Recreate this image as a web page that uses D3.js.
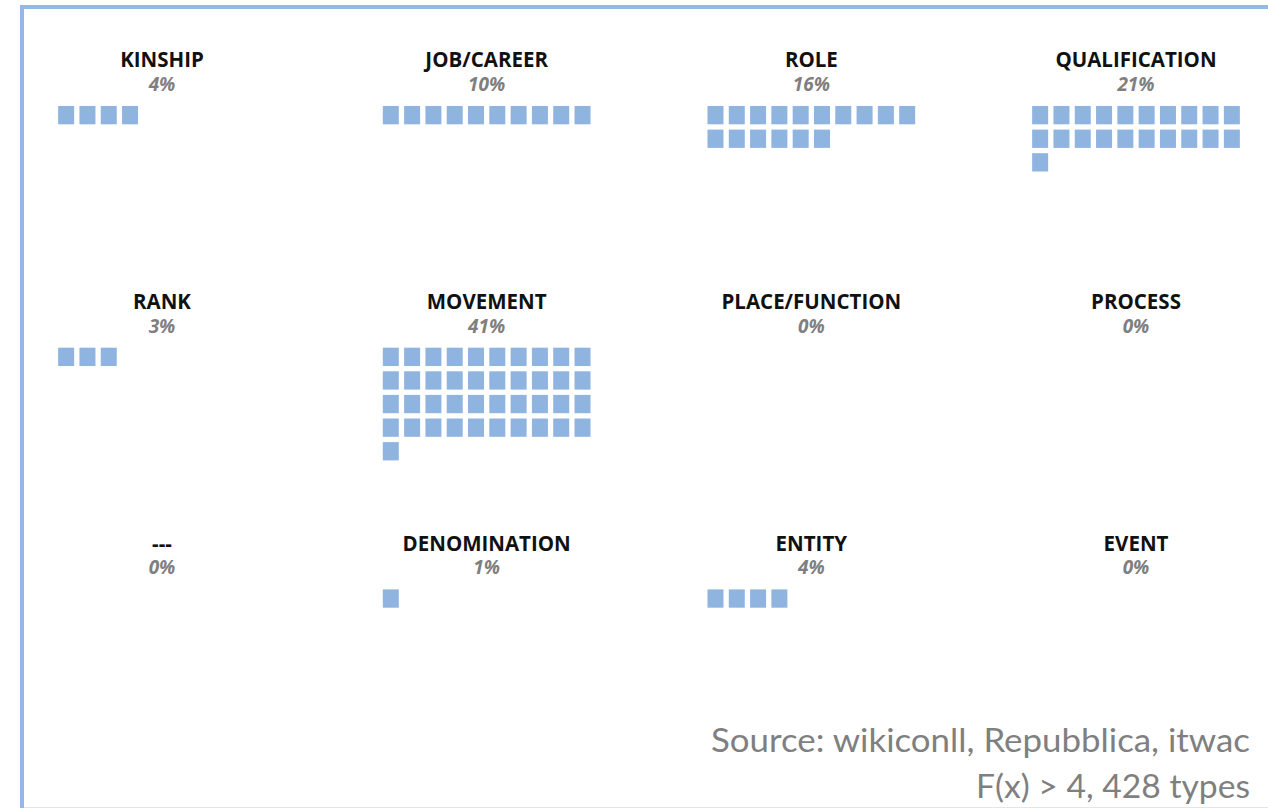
<!DOCTYPE html>
<html>
<head>
<meta charset="utf-8">
<script src="https://cdn.jsdelivr.net/npm/d3@7"></script>
<style>
  html, body { margin: 0; padding: 0; background: #fff; }
  svg { display: block; }
</style>
</head>
<body>
<div id="chart"></div>
<script>
// categories and their share (%), one square per percent
const categories = [
  "KINSHIP", "JOB/CAREER", "ROLE", "QUALIFICATION",
  "RANK", "MOVEMENT", "PLACE/FUNCTION", "PROCESS",
  "---", "DENOMINATION", "ENTITY", "EVENT"
];
const shares = [4, 10, 16, 21, 3, 41, 0, 0, 0, 1, 4, 0];
const sourceLines = ["Source: wikiconll, Repubblica, itwac", "F(x) > 4, 428 types"];

const width = 1268, height = 808;
const perRow = 10;

const svg = d3.select("#chart").append("svg")
  .attr("width", width)
  .attr("height", height);

// frame (runs off the right and bottom edge)
svg.append("rect")
  .attr("x", 22).attr("y", 7)
  .attr("width", width + 20).attr("height", height + 20)
  .attr("fill", "none")
  .attr("stroke", "#93b8e3")
  .attr("stroke-width", 4);

svg.append("line")
  .attr("x1", 24).attr("x2", width)
  .attr("y1", 807.5).attr("y2", 807.5)
  .attr("stroke", "#e6e6e6");

const col = d3.scalePoint().domain(d3.range(4)).range([162, 1136]);
const row = d3.scalePoint().domain(d3.range(3)).range([67.3, 550.7]);

// square grid inside a panel
const sqX = d3.scaleLinear().domain([0, 1]).range([0, 21.3]);
const sqY = d3.scaleLinear().domain([0, 1]).range([0, 23.6]);
const sqW = 16, sqH = 18.3;
const gridW = sqX(perRow - 1) + sqW;

const panels = categories.map((name, i) => ({ name, value: shares[i], c: i % 4, r: Math.floor(i / 4) }));

const panel = svg.selectAll("g.panel")
  .data(panels)
  .join("g")
  .attr("class", "panel")
  .attr("transform", d => `translate(${col(d.c)},${row(d.r)})`);

panel.append("text")
  .attr("text-anchor", "middle")
  .attr("font-family", "Open Sans")
  .attr("font-weight", 700)
  .attr("font-size", 20.5)
  .attr("fill", "#111")
  .text(d => d.name);

panel.append("text")
  .attr("text-anchor", "middle")
  .attr("y", 23.6)
  .attr("font-family", "Open Sans")
  .attr("font-weight", 700)
  .attr("font-style", "italic")
  .attr("font-size", 19)
  .attr("fill", "#7f7f7f")
  .text(d => d.value + "%");

panel.append("g")
  .attr("transform", `translate(${-gridW / 2},38.7)`)
  .selectAll("rect")
  .data(d => d3.range(d.value))
  .join("rect")
  .attr("x", k => sqX(k % perRow))
  .attr("y", k => sqY(Math.floor(k / perRow)))
  .attr("width", sqW)
  .attr("height", sqH)
  .attr("fill", "#8fb4df");

// source note, squeezed to the width of the original
const noteWidths = [539, 274];
const noteBase = d3.scaleLinear().domain([0, 1]).range([752, 798]);
svg.selectAll("text.note")
  .data(sourceLines)
  .join("text")
  .attr("class", "note")
  .attr("x", 1250)
  .attr("y", (d, i) => noteBase(i))
  .attr("text-anchor", "end")
  .attr("font-family", "Lato")
  .attr("font-size", 32)
  .attr("fill", "#7f7f7f")
  .attr("textLength", (d, i) => noteWidths[i])
  .attr("lengthAdjust", "spacingAndGlyphs")
  .text(d => d);
</script>
</body>
</html>
